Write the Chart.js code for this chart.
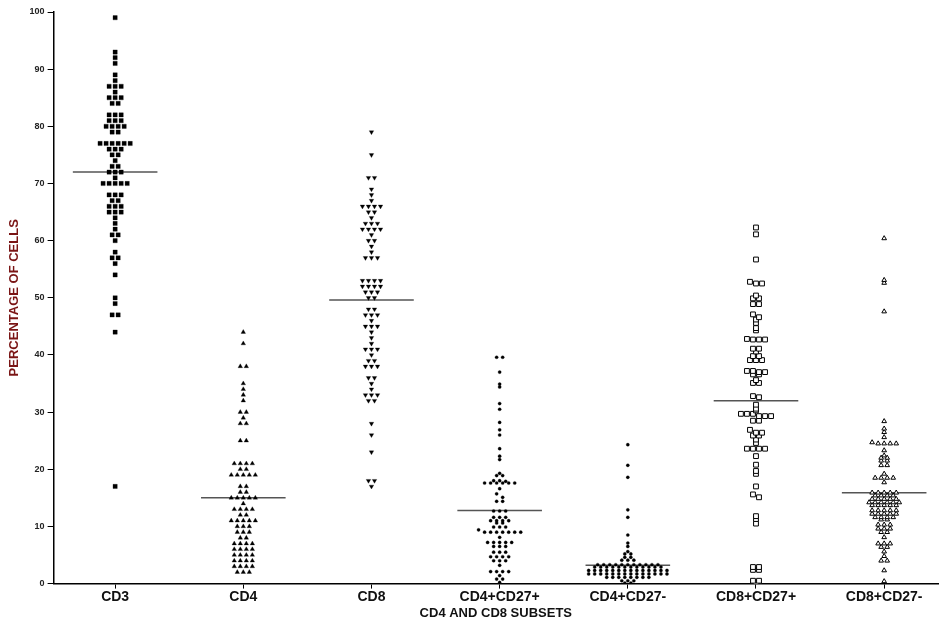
<!DOCTYPE html>
<html>
<head>
<meta charset="utf-8">
<script src="https://cdn.jsdelivr.net/npm/chart.js@4"></script>
<style>
  html, body { margin: 0; padding: 0; background: #fff; }
  #wrap { width: 943px; height: 624px; }
</style>
</head>
<body>
<div id="wrap"><canvas id="subsetChart"></canvas></div>
<script>
const categories = ['CD3', 'CD4', 'CD8', 'CD4+CD27+', 'CD4+CD27-', 'CD8+CD27+', 'CD8+CD27-'];
const yTicks = [0, 10, 20, 30, 40, 50, 60, 70, 80, 90, 100];

const cd3 = [99, 93, 92, 91, 89, 88, 87, 87, 87, 86, 85, 85, 85, 84, 84, 82, 82, 82, 81, 81, 81,
  80, 80, 80, 80, 79, 79, 77, 77, 77, 77, 77, 77, 76, 76, 76, 75, 75, 74, 73, 73, 72, 72, 72, 71,
  70, 70, 70, 70, 70, 68, 68, 68, 67, 67, 66, 66, 66, 65, 65, 65, 64, 63, 62, 61, 61, 60, 58,
  57, 57, 56, 54, 50, 49, 47, 47, 44, 17];
const cd4 = [44, 42, 38, 38, 35, 34, 33, 32, 30, 30, 29, 28, 28, 25, 25, 21, 21, 21, 21, 20, 20,
  19, 19, 19, 19, 19, 17, 17, 16, 16, 15, 15, 15, 15, 15, 14, 13, 13, 13, 13, 12, 12,
  11, 11, 11, 11, 11, 10, 10, 10, 9, 9, 9, 8, 8, 7, 7, 7, 7, 6, 6, 6, 6, 5, 5, 5, 5,
  4, 4, 4, 4, 3, 3, 3, 3, 2, 2, 2];
const cd8 = [79, 75, 71, 71, 69, 68, 67, 66, 66, 66, 66, 65, 65, 64, 63, 63, 63, 62, 62, 62, 62,
  61, 60, 60, 59, 58, 57, 57, 57, 53, 53, 53, 53, 52, 52, 52, 52, 51, 51, 51, 50, 50, 48, 48,
  47, 47, 47, 46, 45, 45, 45, 44, 43, 42, 41, 41, 41, 40, 39, 39, 38, 38, 38, 36, 36, 35, 34,
  33, 33, 33, 32, 32, 28, 26, 23, 18, 18, 17];
const cd4cd27pos = [39.6, 39.6, 37.0, 34.9, 34.4, 31.5, 30.5, 28.2, 26.9, 26.0, 23.6, 22.3, 21.7,
  19.3, 18.9, 18.9, 18.0, 18.0, 17.9, 17.6, 17.6, 17.6, 17.6, 17.6, 17.6, 16.6, 15.7, 15.1,
  14.4, 14.4, 12.7, 12.7, 12.7, 11.6, 11.6, 11.6, 11.0, 11.0, 11.0, 11.0, 10.6, 10.6,
  9.9, 9.9, 9.9, 9.4, 9.0, 9.0, 9.0, 9.0, 9.0, 9.0, 9.0, 8.1, 7.2, 7.2, 7.2, 7.2, 7.2,
  6.5, 6.5, 6.5, 5.5, 5.5, 5.5, 4.7, 4.7, 4.7, 4.7, 4.0, 4.0, 4.0, 3.2, 2.1, 2.1, 2.1, 2.1,
  1.4, 0.8, 0.8, 0.2];
const cd4cd27neg = [24.3, 20.7, 18.6, 12.9, 11.6, 8.5, 7.1, 6.5, 5.6, 5.2, 5.2, 4.6, 4.6, 4.1, 4.1, 4.1,
  3.3, 3.3, 3.3, 3.3, 3.3, 3.3, 3.3, 3.3, 3.3, 3.3, 3.3,
  2.9, 2.9, 2.9, 2.9, 2.9, 2.9, 2.9, 2.9, 2.9, 2.9, 2.9, 2.9,
  2.3, 2.3, 2.3, 2.3, 2.3, 2.3, 2.3, 2.3, 2.3, 2.3, 2.3, 2.3, 2.3, 2.3,
  1.7, 1.7, 1.7, 1.7, 1.7, 1.7, 1.7, 1.7, 1.7, 1.7, 1.7, 1.7, 1.7, 1.7,
  1.1, 1.1, 1.1, 1.1, 1.1, 1.1, 1.1, 1.1, 0.5, 0.5, 0.5, 0.1, 0.1];
const cd8cd27pos = [62.3, 61.1, 56.7, 52.8, 52.5, 52.5, 50.4, 49.9, 49.9, 48.9, 48.9, 47.1, 46.6,
  46.2, 45.6, 44.7, 44.3, 42.8, 42.7, 42.7, 42.7, 41.1, 41.1, 40.6, 39.8, 39.8, 39.1, 39.1, 39.1,
  37.2, 37.2, 37.0, 37.0, 36.6, 36.6, 35.6, 35.1, 35.1, 32.8, 32.6, 31.3, 30.6, 30.3,
  29.7, 29.7, 29.7, 29.3, 29.3, 29.3, 28.5, 28.5, 26.9, 26.4, 26.4, 25.9, 25.9, 25.2, 24.6,
  23.6, 23.6, 23.6, 23.6, 22.3, 20.8, 19.7, 19.2, 17.0, 15.6, 15.1, 11.8, 11.3, 10.5,
  2.9, 2.9, 2.4, 2.4, 0.5, 0.5, 0.2];
const cd8cd27neg = [60.4, 53.1, 52.6, 47.6, 28.4, 27.1, 26.5, 25.6, 24.7, 24.5, 24.5, 24.5, 24.5,
  23.3, 22.4, 22.0, 22.0, 21.5, 21.5, 20.7, 20.7, 19.2, 18.5, 18.5, 18.5, 18.5, 17.7,
  15.9, 15.9, 15.9, 15.9, 15.9, 15.4, 15.4, 15.4, 15.4, 14.8, 14.8, 14.8, 14.8, 14.8,
  14.2, 14.2, 14.2, 14.2, 14.2, 14.2, 13.7, 13.7, 13.7, 13.7, 13.7, 12.8, 12.8, 12.8, 12.8, 12.8,
  12.2, 12.2, 12.2, 12.2, 12.2, 11.6, 11.6, 11.6, 11.6, 11.2, 11.2, 10.3, 10.3, 10.3,
  9.6, 9.6, 9.6, 9.0, 9.0, 8.1, 7.0, 7.0, 7.0, 6.4, 6.4, 5.6, 4.8, 4.0, 4.0, 2.3, 0.4];

// horizontal bar drawn across each group
const groupLines = [72, 15, 49.6, 12.8, 3.2, 32, 15.9];

const groups = [cd3, cd4, cd8, cd4cd27pos, cd4cd27neg, cd8cd27pos, cd8cd27neg];

// how the markers look per group
const looks = [
  { pointStyle: 'rect', radius: 3, fill: '#000', rot: 0 },
  { pointStyle: 'triangle', radius: 2.6, fill: '#000', rot: 0 },
  { pointStyle: 'triangle', radius: 2.6, fill: '#000', rot: 180 },
  { pointStyle: 'circle', radius: 1.6, fill: '#000', rot: 0 },
  { pointStyle: 'circle', radius: 1.6, fill: '#000', rot: 0 },
  { pointStyle: 'rect', radius: 3.4, fill: '#fff', rot: 0 },
  { pointStyle: 'triangle', radius: 2.7, fill: '#fff', rot: 0 }
];
const binSize = [1, 1, 1, 0.7, 0.55, 0.7, 0.55];
const spread = 0.047;

// lay points out side by side when they share a row
function swarm(values, center, bin) {
  const rows = {};
  values.forEach(v => {
    const k = Math.round(v / bin);
    (rows[k] = rows[k] || []).push(v);
  });
  const pts = [];
  Object.values(rows).forEach(row => {
    row.forEach((v, i) => pts.push({ x: center + (i - (row.length - 1) / 2) * spread, y: v }));
  });
  return pts;
}

const datasets = [];
groups.forEach((vals, i) => {
  const lk = looks[i];
  datasets.push({
    data: swarm(vals, i + 1, binSize[i]),
    pointStyle: lk.pointStyle,
    pointRadius: lk.radius,
    pointRotation: lk.rot,
    pointBackgroundColor: lk.fill,
    pointBorderColor: '#000',
    pointBorderWidth: lk.fill === '#fff' ? 1 : 0.3,
    showLine: false
  });
});
groupLines.forEach((m, i) => {
  datasets.push({
    data: [{ x: i + 1 - 0.33, y: m }, { x: i + 1 + 0.33, y: m }],
    showLine: true,
    borderColor: '#555',
    borderWidth: 1.5,
    pointRadius: 0
  });
});

new Chart(document.getElementById('subsetChart'), {
  type: 'scatter',
  data: { datasets },
  options: {
    responsive: true,
    maintainAspectRatio: false,
    animation: false,
    layout: { padding: { top: 12, right: 0, left: 7, bottom: 3 } },
    plugins: { legend: { display: false }, tooltip: { enabled: false } },
    scales: {
      x: {
        type: 'linear',
        min: 0.52,
        max: 7.42,
        afterBuildTicks: s => { s.ticks = categories.map((c, i) => ({ value: i + 1 })); },
        ticks: {
          callback: v => categories[v - 1],
          color: '#111',
          font: { family: 'Liberation Sans, Arial, sans-serif', size: 14, weight: 'bold' },
          padding: 0,
          maxRotation: 0,
          autoSkip: false
        },
        grid: { drawOnChartArea: false, tickLength: 5, color: '#000' },
        border: { color: '#000', width: 1.5 },
        title: {
          display: true,
          text: 'CD4 AND CD8 SUBSETS',
          color: '#111',
          font: { family: 'Liberation Sans, Arial, sans-serif', size: 13, weight: 'bold' },
          padding: { top: 0, bottom: 0 }
        }
      },
      y: {
        min: 0,
        max: 100,
        afterBuildTicks: s => { s.ticks = yTicks.map(v => ({ value: v })); },
        ticks: {
          color: '#222',
          font: { family: 'Liberation Sans, Arial, sans-serif', size: 9, weight: 'bold' },
          padding: 3
        },
        grid: { drawOnChartArea: false, tickLength: 6, color: '#000' },
        border: { color: '#000', width: 1.5 },
        title: {
          display: true,
          text: 'PERCENTAGE OF CELLS',
          color: '#7a1515',
          font: { family: 'Liberation Sans, Arial, sans-serif', size: 13, weight: 'bold' },
          padding: { top: 0, bottom: 4 }
        }
      }
    }
  }
});
</script>
</body>
</html>
